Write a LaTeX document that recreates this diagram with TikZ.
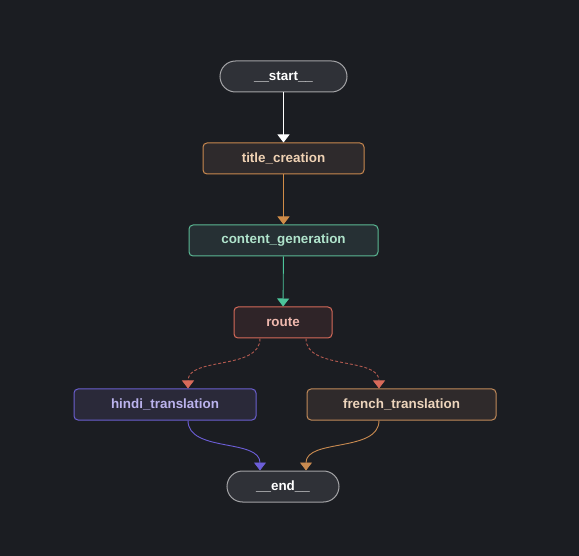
\documentclass[tikz,border=0pt]{standalone}
\usepackage{fontspec}
\setmainfont{Liberation Sans}
\usetikzlibrary{arrows.meta,calc}
\definecolor{bg}{HTML}{1B1D22}
\definecolor{startfill}{HTML}{2F3137}
\definecolor{startdraw}{HTML}{A3A3A6}
\definecolor{titlefill}{HTML}{2E2A2C}
\definecolor{titledraw}{HTML}{C8884F}
\definecolor{titletext}{HTML}{F0D2B4}
\definecolor{contfill}{HTML}{263034}
\definecolor{contdraw}{HTML}{5BB894}
\definecolor{conttext}{HTML}{B0E4CC}
\definecolor{routefill}{HTML}{2F2428}
\definecolor{routedraw}{HTML}{D56A5A}
\definecolor{routetext}{HTML}{EFB8AE}
\definecolor{hindifill}{HTML}{2A2939}
\definecolor{hindidraw}{HTML}{6B5FCF}
\definecolor{hinditext}{HTML}{BAB2EC}
\definecolor{frfill}{HTML}{2F2A2B}
\definecolor{frdraw}{HTML}{C08A5A}
\definecolor{frtext}{HTML}{ECD4BC}
\definecolor{eorange}{HTML}{D08C48}
\definecolor{egreen}{HTML}{4CC49A}
\definecolor{eredline}{HTML}{B35A50}
\definecolor{eredtip}{HTML}{D86A5A}
\definecolor{epurple}{HTML}{6C5ED8}
\definecolor{efr}{HTML}{C88A50}
\tikzset{
  x=1pt,y=-1pt,
  box/.style={draw,line width=1pt,rounded corners=4pt,minimum height=31pt,inner sep=0pt,font=\fontsize{13.4}{15}\selectfont\bfseries},
  pill/.style={box,rounded corners=15.5pt,fill=startfill,draw=startdraw,text=white},
  edge/.style={line width=0.9pt},
  tip/.style={-{Triangle[width=12pt,length=8pt,color=#1]}},
}
\begin{document}
\begin{tikzpicture}
\fill[bg] (0,0) rectangle (579,556);
\useasboundingbox (0,0) rectangle (579,556);
\node[pill,minimum width=127pt] (start) at (283.5,76.5) {\_\_start\_\_};
\node[box,minimum width=161pt,fill=titlefill,draw=titledraw,text=titletext] (title) at (283.5,158.5) {title\_creation};
\node[box,minimum width=189pt,fill=contfill,draw=contdraw,text=conttext] (cont) at (283.5,240.5) {content\_generation};
\node[box,minimum width=98pt,fill=routefill,draw=routedraw,text=routetext] (route) at (283,322.5) {route};
\node[box,minimum width=182pt,fill=hindifill,draw=hindidraw,text=hinditext] (hindi) at (165,404.5) {hindi\_translation};
\node[box,minimum width=189pt,fill=frfill,draw=frdraw,text=frtext] (french) at (401.5,404.5) {french\_translation};
\node[pill,minimum width=112pt] (end) at (283,486.5) {\_\_end\_\_};

\draw[edge,white,tip=white] (start) -- (title);
\draw[edge,eorange,tip=eorange] (title) -- (cont);
\draw[edge,egreen,tip=egreen] (cont) -- (route);
\draw[edge,eredline,dash pattern=on 3pt off 2pt,tip=eredtip]
  ([xshift=-23pt]route.south) .. controls ++(0,32) and ++(0,-32) .. ([xshift=23pt]hindi.north);
\draw[edge,eredline,dash pattern=on 3pt off 2pt,tip=eredtip]
  ([xshift=23pt]route.south) .. controls ++(0,32) and ++(0,-32) .. ([xshift=-22.5pt]french.north);
\draw[edge,epurple,tip=epurple]
  ([xshift=23pt]hindi.south) .. controls ++(0,32) and ++(0,-32) .. ([xshift=-23pt]end.north);
\draw[edge,efr,tip=efr]
  ([xshift=-22.5pt]french.south) .. controls ++(0,32) and ++(0,-32) .. ([xshift=23pt]end.north);
\end{tikzpicture}
\end{document}
